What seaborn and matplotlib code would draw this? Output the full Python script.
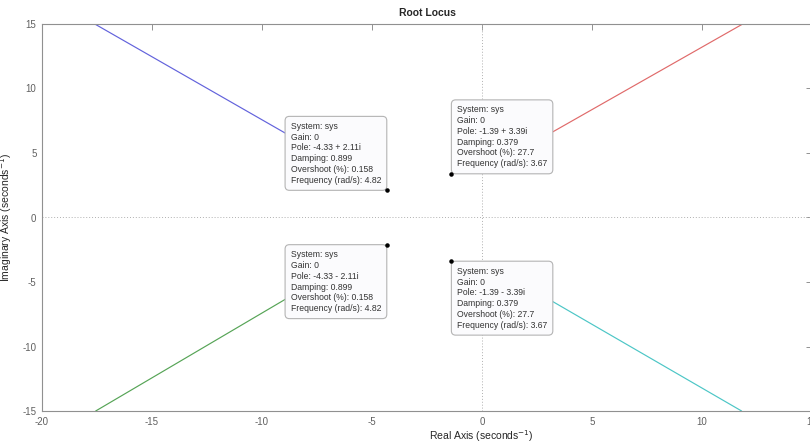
import matplotlib
matplotlib.use("Agg")
import matplotlib.pyplot as plt
import pandas as pd
import seaborn as sns

# Root locus branches (real, imaginary)
blue_re = [-4.33, -8.9, -17.6]
blue_im = [2.11, 6.5, 15.0]
red_re = [-1.39, 3.23, 11.85]
red_im = [3.39, 6.65, 15.0]
green_re = [-4.33, -8.9, -17.56]
green_im = [-2.11, -6.3, -15.0]
cyan_re = [-1.39, 3.23, 11.8]
cyan_im = [-3.39, -6.53, -15.0]

# Data tips
pole_re = [-4.33, -1.39, -4.33, -1.39]
pole_im = [2.11, 3.39, -2.11, -3.39]
gain = [0, 0, 0, 0]
damping = ["0.899", "0.379", "0.899", "0.379"]
overshoot = ["0.158", "27.7", "0.158", "27.7"]
frequency = ["4.82", "3.67", "4.82", "3.67"]

x_ticks = [-20, -15, -10, -5, 0, 5, 10, 15]
y_ticks = [-15, -10, -5, 0, 5, 10, 15]

branches = {
    "blue": (blue_re, blue_im),
    "red": (red_re, red_im),
    "green": (green_re, green_im),
    "cyan": (cyan_re, cyan_im),
}
rows = []
for name, (re, im) in branches.items():
    for a, b in zip(re, im):
        rows.append({"branch": name, "re": a, "im": b})
df = pd.DataFrame(rows)

sns.set_theme(style="white")
plt.rcParams["font.family"] = ["Liberation Sans", "DejaVu Sans"]
plt.rcParams["axes.unicode_minus"] = False

fig = plt.figure(figsize=(8.1, 4.44), dpi=100)
ax = fig.add_axes([42 / 810, 33 / 444, 770 / 810, 387 / 444])

# zero lines
ax.axhline(0, color="#b0b0b0", lw=0.7, ls=(0, (1, 2)), zorder=1)
ax.axvline(0, color="#b0b0b0", lw=0.7, ls=(0, (1, 2)), zorder=1)

palette = {"blue": "#6262dc", "red": "#e06a6a", "green": "#56a456", "cyan": "#4cc6c6"}
sns.lineplot(data=df, x="re", y="im", hue="branch", palette=palette, sort=False,
             estimator=None, legend=False, lw=0.85, ax=ax, zorder=2)

pad_pt = 4.0
placements = [("right", "bottom"), ("left", "bottom"), ("right", "top"), ("left", "top")]
for i, (ha, va) in enumerate(placements):
    sign = "+" if pole_im[i] >= 0 else "-"
    txt = (f"System: sys\nGain: {gain[i]}\n"
           f"Pole: {pole_re[i]:.2f} {sign} {abs(pole_im[i]):.2f}i\n"
           f"Damping: {damping[i]}\nOvershoot (%): {overshoot[i]}\n"
           f"Frequency (rad/s): {frequency[i]}")
    dx = -pad_pt if ha == "right" else pad_pt
    dy = pad_pt if va == "bottom" else -pad_pt
    ax.annotate(txt, xy=(pole_re[i], pole_im[i]), xytext=(dx, dy),
                textcoords="offset points", ha=ha, va=va, multialignment="left",
                fontsize=6.2, color="#333333", linespacing=1.25, zorder=5,
                bbox=dict(boxstyle="round,pad=0.65,rounding_size=0.5",
                          fc="#fbfbfd", ec="#b4b4b4", lw=0.8))
ax.scatter(pole_re, pole_im, s=5, color="black", zorder=6)

ax.set_xlim(-20, 15)
ax.set_ylim(-15, 15)
ax.set_xticks(x_ticks)
ax.set_yticks(y_ticks)
ax.tick_params(direction="in", length=4, width=0.6, color="#808080",
               labelsize=7, labelcolor="#606060", top=True, right=True, pad=4)
for s in ax.spines.values():
    s.set_color("#909090")
    s.set_linewidth(0.8)

ax.set_title("Root Locus", fontsize=7.5, fontweight="bold", pad=6)
ax.set_xlabel("Real Axis (seconds$^{-1}$)", fontsize=7.5, color="#262626")
ax.set_ylabel("Imaginary Axis (seconds$^{-1}$)", fontsize=7.5, color="#262626")
ax.xaxis.set_label_coords(0.57, -0.045)
ax.yaxis.set_label_coords(-0.036, 0.5)

fig.savefig("out.png", dpi=100)
